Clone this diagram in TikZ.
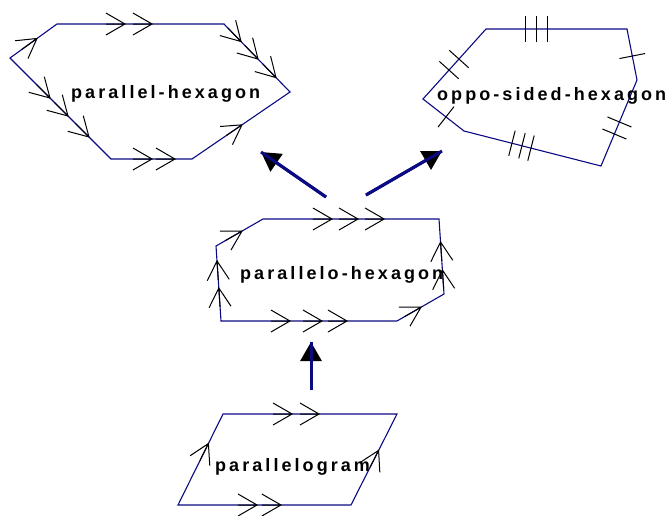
\documentclass[tikz,border=0pt]{standalone}
\usepackage{fontspec}
\setmainfont{Liberation Sans}[LetterSpace=17]
\usetikzlibrary{calc,arrows.meta}
\definecolor{navy}{RGB}{10,10,130}
\tikzset{
  edge/.style={draw=navy,line width=1.1pt,line join=miter},
  chevron/.style={draw=black,line width=1pt},
  tick/.style={draw=black,line width=1pt},
  lbl/.style={inner sep=0pt,anchor=base west,font=\fontsize{18}{20}\selectfont\bfseries,text=black},
  bigarrow/.style={draw=navy,line width=3pt,-{Triangle[length=19pt,width=21pt,color=black]}},
  shaft/.style={draw=navy,line width=3pt},
}
\newcommand\chv[3]{%
  \coordinate (tp) at ($(#1)!#3!(#2)$);
  \draw[chevron] ($(tp)!19pt!(#1)$) -- (tp)
    ($(tp)!22pt!30:(#1)$) -- (tp) -- ($(tp)!22pt!-30:(#1)$);}
\newcommand\tck[3]{%
  \coordinate (tp) at ($(#1)!#3!(#2)$);
  \draw[tick] ($(tp)!13pt!90:(#2)$) -- ($(tp)!13pt!-90:(#2)$);}
\begin{document}
\begin{tikzpicture}[x=1pt,y=-1pt]
\useasboundingbox (0,0) rectangle (670,515);
% parallel-hexagon
\coordinate (A1) at (57,24); \coordinate (A2) at (224,24); \coordinate (A3) at (290,92);
\coordinate (A4) at (192,159); \coordinate (A5) at (111,159); \coordinate (A6) at (10,58);
\draw[edge] (A1) -- (A2) -- (A3) -- (A4) -- (A5) -- (A6) -- cycle;
\chv{A1}{A2}{0.407}\chv{A1}{A2}{0.569}
\chv{A2}{A3}{0.258}\chv{A2}{A3}{0.515}\chv{A2}{A3}{0.788}
\chv{A4}{A3}{0.51}
\chv{A5}{A4}{0.506}\chv{A5}{A4}{0.79}
\chv{A6}{A5}{0.396}\chv{A6}{A5}{0.574}\chv{A6}{A5}{0.782}
\chv{A6}{A1}{0.574}
\node[lbl] (lA) at (71,98) {parallel-hexagon};
% oppo-sided-hexagon
\coordinate (D1) at (486,29); \coordinate (D2) at (627,29); \coordinate (D3) at (637,80);
\coordinate (D4) at (601,166); \coordinate (D5) at (464,131); \coordinate (D6) at (423,99);
\draw[edge] (D1) -- (D2) -- (D3) -- (D4) -- (D5) -- (D6) -- cycle;
\tck{D1}{D2}{0.277}\tck{D1}{D2}{0.355}\tck{D1}{D2}{0.433}
\tck{D2}{D3}{0.53}
\tck{D3}{D4}{0.488}\tck{D3}{D4}{0.628}
\tck{D4}{D5}{0.511}\tck{D4}{D5}{0.577}\tck{D4}{D5}{0.65}
\tck{D5}{D6}{0.44}
\tck{D6}{D1}{0.413}\tck{D6}{D1}{0.571}
\node[lbl] (lD) at (437,100) {oppo-sided-hexagon};
% parallelo-hexagon
\coordinate (B1) at (263,219); \coordinate (B2) at (439,219); \coordinate (B3) at (444,294);
\coordinate (B4) at (397,321); \coordinate (B5) at (221,321); \coordinate (B6) at (216,246);
\draw[edge] (B1) -- (B2) -- (B3) -- (B4) -- (B5) -- (B6) -- cycle;
\chv{B1}{B2}{0.392}\chv{B1}{B2}{0.540}\chv{B1}{B2}{0.688}
\chv{B6}{B1}{0.553}
\chv{B5}{B6}{0.44}\chv{B5}{B6}{0.80}
\chv{B3}{B2}{0.32}\chv{B3}{B2}{0.693}
\chv{B5}{B4}{0.392}\chv{B5}{B4}{0.574}\chv{B5}{B4}{0.716}
\chv{B4}{B3}{0.51}
\node[lbl] (lB) at (240,279) {parallelo-hexagon};
% parallelogram
\coordinate (C1) at (223,414); \coordinate (C2) at (397,414);
\coordinate (C3) at (351,505); \coordinate (C4) at (178,505);
\draw[edge] (C1) -- (C2) -- (C3) -- (C4) -- cycle;
\chv{C1}{C2}{0.397}\chv{C1}{C2}{0.552}
\chv{C4}{C3}{0.457}\chv{C4}{C3}{0.595}
\chv{C4}{C1}{0.675}
\chv{C3}{C2}{0.6}
\node[lbl] (lC) at (215,471) {parallelogram};
% arrows
\coordinate (u1) at (311,390); \coordinate (u2) at (311,342);
\coordinate (l1) at (326,197); \coordinate (l2) at (261,152);
\coordinate (r1) at (366,195); \coordinate (r2) at (442,151);
\draw[bigarrow] (u1) -- (u2); \draw[shaft] (u1) -- (u2);
\draw[bigarrow] (l1) -- (l2); \draw[shaft] (l1) -- (l2);
\draw[bigarrow] (r1) -- (r2); \draw[shaft] (r1) -- (r2);
\end{tikzpicture}
\end{document}
